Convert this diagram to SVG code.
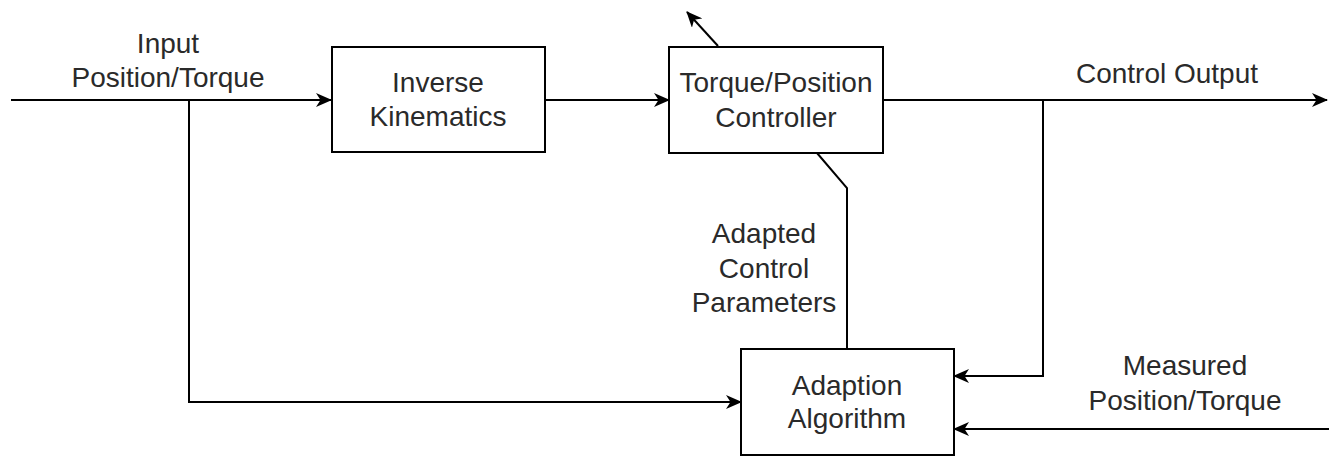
<svg xmlns="http://www.w3.org/2000/svg" width="1329" height="456" viewBox="0 0 1329 456">
  <style>
    .box { fill: #ffffff; stroke: #000000; stroke-width: 2; }
    .wire { fill: none; stroke: #000000; stroke-width: 2; }
    .arrow { marker-end: url(#head); }
    text { font-family: "Liberation Sans", Arial, Helvetica, sans-serif; font-size: 28px; fill: #2a2a2a; text-anchor: middle; }
  </style>
  <defs>
    <marker id="head" viewBox="0 0 16 14" refX="15" refY="7" markerWidth="16" markerHeight="14" markerUnits="userSpaceOnUse" orient="auto">
      <path d="M0,0 L16,7 L0,14 L4.5,7 Z" fill="#000000"/>
    </marker>
  </defs>

  <rect width="1329" height="456" fill="#ffffff"/>

  <!-- connectors -->
  <g id="connectors">
    <path class="wire arrow" d="M11,100 H331"/>
    <path class="wire arrow" d="M189,100 V402 H741"/>
    <path class="wire arrow" d="M545,100 H669"/>
    <path class="wire arrow" d="M883,100 H1327"/>
    <path class="wire arrow" d="M1043,100 V376 H954"/>
    <path class="wire arrow" d="M1329,429 H954"/>
    <path class="wire" d="M847,349 V188 L817,153"/>
    <path class="wire arrow" d="M718,46 L687,12"/>
  </g>

  <!-- free labels -->
  <g id="label-input">
    <text x="168" y="53">Input</text>
    <text x="168" y="87">Position/Torque</text>
  </g>
  <g id="label-output">
    <text x="1167" y="83">Control Output</text>
  </g>
  <g id="label-params">
    <text x="764" y="243">Adapted</text>
    <text x="764" y="278">Control</text>
    <text x="764" y="312">Parameters</text>
  </g>
  <g id="label-measured">
    <text x="1185" y="375">Measured</text>
    <text x="1185" y="410">Position/Torque</text>
  </g>

  <!-- blocks -->
  <g id="inverse-kinematics">
    <rect class="box" x="332" y="47" width="213" height="105"/>
    <text x="438" y="92">Inverse</text>
    <text x="438" y="126">Kinematics</text>
  </g>
  <g id="controller">
    <rect class="box" x="669" y="47" width="214" height="106"/>
    <text x="776" y="92">Torque/Position</text>
    <text x="776" y="127">Controller</text>
  </g>
  <g id="adaption">
    <rect class="box" x="741" y="349" width="213" height="106"/>
    <text x="847" y="395">Adaption</text>
    <text x="847" y="428">Algorithm</text>
  </g>
</svg>
